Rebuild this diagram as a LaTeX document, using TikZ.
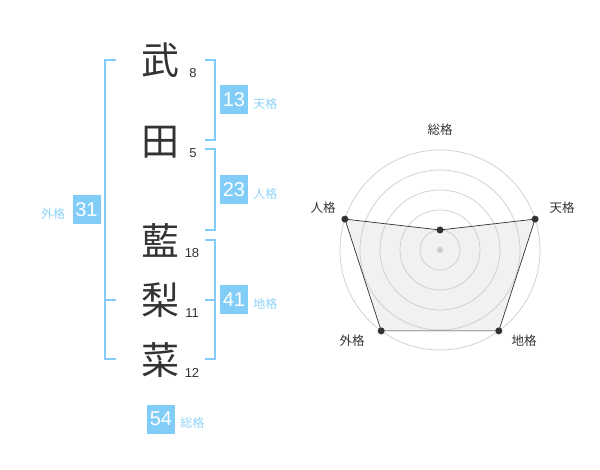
\documentclass[tikz,border=0pt]{standalone}
\usepackage{fontspec}
\setmainfont{Liberation Sans}
\newfontfamily\jp{Noto Sans CJK JP}
\usetikzlibrary{positioning}
\definecolor{kakublue}{HTML}{82CDF8}
\definecolor{kakutext}{HTML}{8ED2F8}
\definecolor{inkgray}{HTML}{333333}
\definecolor{ringgray}{HTML}{CCCCCC}
\definecolor{areagray}{HTML}{F1F1F1}
\begin{document}
\begin{tikzpicture}[x=1pt,y=-1pt,
        moji/.style={font=\jp\fontsize{38}{38}\selectfont,text=inkgray,inner sep=0pt},
        kazu/.style={font=\fontsize{13}{13}\selectfont,text=inkgray,inner sep=0pt},
        kakubox/.style={fill=kakublue,text=white,minimum width=28pt,minimum height=29pt,inner sep=0pt,font=\fontsize{20}{20}\selectfont},
        kakuname/.style={font=\jp\fontsize{12}{12}\selectfont,text=kakutext,inner sep=0pt},
        bracket/.style={draw=kakublue,line width=1.6pt},
        ring/.style={draw=ringgray,line width=0.7pt},
        axisname/.style={font=\jp\fontsize{12.5}{12.5}\selectfont,text=inkgray,inner sep=0pt},
        dot/.style={circle,fill=inkgray,inner sep=0pt,minimum size=7pt}]

    \useasboundingbox (0,0) rectangle (600,470);

    % name
    \node[moji] (take) at (160,60)  {武};
    \node[moji] (ta)   at (160,142) {田};
    \node[moji] (ai)   at (160,240) {藍};
    \node[moji] (ri)   at (160,300) {梨};
    \node[moji] (na)   at (160,360) {菜};

    \node[kazu] (take-n) at (193,73)  {8};
    \node[kazu] (ta-n)   at (193,153) {5};
    \node[kazu] (ai-n)   at (192,253) {18};
    \node[kazu] (ri-n)   at (192,313) {11};
    \node[kazu] (na-n)   at (192,373) {12};

    % brackets
    \draw[bracket] (205,60) -- (215,60) -- (215,140) -- (205,140);
    \draw[bracket] (205,149) -- (215,149) -- (215,230) -- (205,230);
    \draw[bracket] (205,240) -- (215,240) -- (215,359) -- (205,359);
    \draw[bracket] (205,300) -- (215,300);
    \draw[bracket] (116,60) -- (105,60) -- (105,359) -- (116,359);
    \draw[bracket] (105,300) -- (116,300);

    % kaku
    \node[kakubox] (ten) at (234,100) {13};
    \node[kakubox] (jin) at (234,190) {23};
    \node[kakubox] (chi) at (234,300) {41};
    \node[kakubox] (gai) at (86.5,210) {31};
    \node[kakubox] (sou) at (161,419) {54};

    \node[kakuname,right=5pt of ten,yshift=-4pt] (ten-l) {天格};
    \node[kakuname,right=5pt of jin,yshift=-4pt] (jin-l) {人格};
    \node[kakuname,right=5pt of chi,yshift=-4pt] (chi-l) {地格};
    \node[kakuname,left=7pt of gai,yshift=-4pt]  (gai-l) {外格};
    \node[kakuname,right=5pt of sou,yshift=-4pt] (sou-l) {総格};

    % radar
    \coordinate (o) at (440,250);
    \fill[areagray] (440,230) -- (535.1,219.1) -- (498.8,330.9) -- (381.2,330.9) -- (344.9,219.1) -- cycle;
    \draw[ring] (o) circle (20);
    \draw[ring] (o) circle (40);
    \draw[ring] (o) circle (60);
    \draw[ring] (o) circle (80);
    \draw[ring] (o) circle (100);
    \fill[ringgray] (o) circle (3);

    \node[dot] (d-sou) at (440,230) {};
    \node[dot] (d-ten) at (535.1,219.1) {};
    \node[dot] (d-chi) at (498.8,330.9) {};
    \node[dot] (d-gai) at (381.2,330.9) {};
    \node[dot] (d-jin) at (344.9,219.1) {};
    \draw[inkgray,line width=0.7pt] (d-sou.center) -- (d-ten.center) -- (d-chi.center) -- (d-gai.center) -- (d-jin.center) -- cycle;

    \node[axisname] (a-sou) at (440,130) {総格};
    \node[axisname] (a-ten) at (562,208) {天格};
    \node[axisname] (a-jin) at (323,208) {人格};
    \node[axisname] (a-gai) at (352,341) {外格};
    \node[axisname] (a-chi) at (524,341) {地格};

\end{tikzpicture}
\end{document}
